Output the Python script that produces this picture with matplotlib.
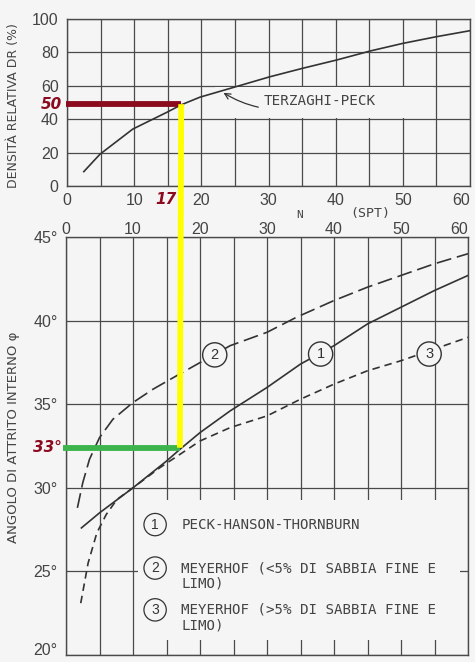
import matplotlib
matplotlib.use("Agg")
import matplotlib.pyplot as plt
from matplotlib.patches import Rectangle, ConnectionPatch

# ---------------- data ----------------
tp_n  = [2.5, 4.9, 9.8, 14.8, 17.0, 19.8, 24.5, 30.2, 35.1, 40.1, 45.3, 50.0, 55.0, 60.0]
tp_dr = [8.6, 19.0, 34.1, 44.0, 48.6, 53.2, 58.7, 65.4, 70.5, 75.4, 81.0, 85.4, 89.4, 93.0]

c1_n   = [2.3, 5.0, 10.0, 15.0, 17.0, 20.0, 24.5, 30.0, 35.0, 40.0, 45.0, 50.0, 55.0, 60.0]
c1_phi = [27.6, 28.5, 30.0, 31.6, 32.3, 33.3, 34.6, 36.0, 37.4, 38.5, 39.8, 40.8, 41.8, 42.7]

c2_n   = [1.7, 2.5, 3.5, 5.0, 7.0, 10.0, 13.0, 16.5, 20.5, 24.5, 30.0, 34.4, 40.0, 45.0, 50.0, 55.0, 60.0]
c2_phi = [28.8, 30.3, 31.7, 33.0, 34.1, 35.1, 35.9, 36.7, 37.6, 38.5, 39.3, 40.2, 41.2, 42.0, 42.7, 43.4, 44.0]

c3_n   = [2.2, 3.3, 4.6, 6.0, 7.6, 10.0, 14.0, 17.0, 20.0, 24.5, 30.0, 35.0, 40.0, 45.0, 50.0, 55.0, 60.0]
c3_phi = [23.1, 25.5, 27.3, 28.4, 29.3, 30.0, 31.2, 32.0, 32.8, 33.6, 34.3, 35.3, 36.2, 37.0, 37.6, 38.3, 39.0]

n_ticks = [0, 10, 20, 30, 40, 50, 60]
dr_ticks = [0, 20, 40, 60, 80, 100]
phi_ticks = [20, 25, 30, 35, 40, 45]
phi_labels = ["20°", "25°", "30°", "35°", "40°", "45°"]

n_read = 17
dr_read = 49
phi_read = 32.4

legend_first = ["PECK-HANSON-THORNBURN",
                "MEYERHOF (<5% DI SABBIA FINE E",
                "MEYERHOF (>5% DI SABBIA FINE E"]
legend_second = ["", "LIMO)", "LIMO)"]

# ---------------- style ----------------
BG = "#f5f5f5"
INK = "#333333"
GRID = "#4a4a4a"
TXT = "#444444"
DRED = "#8b0a1e"
MONO = "DejaVu Sans Mono"
TICKF = "Liberation Sans"

fig = plt.figure(figsize=(4.75, 6.62), dpi=100)
fig.patch.set_facecolor(BG)

W, H = 475.0, 662.0
ax1 = fig.add_axes([67 / W, 1 - 186 / H, (470 - 67) / W, (186 - 19) / H])
ax2 = fig.add_axes([66 / W, 1 - 655 / H, (468 - 66) / W, (655 - 237) / H])

grid5 = list(range(0, 61, 5))
xlabels = [str(t) if t in n_ticks else "" for t in grid5]

for ax in (ax1, ax2):
    ax.set_facecolor(BG)
    ax.set_axisbelow(True)
    for s in ax.spines.values():
        s.set_color(GRID)
        s.set_linewidth(1.0)
    ax.tick_params(length=0, colors=TXT)
    ax.set_xlim(0, 60)
    ax.set_xticks(grid5)
    ax.set_xticklabels(xlabels, family=TICKF, color=TXT, fontsize=11.5)
    ax.grid(True, color=GRID, lw=0.9)

# ---- top panel ----
ax1.set_ylim(0, 100)
ax1.set_yticks(dr_ticks)
ax1.set_yticklabels([str(t) for t in dr_ticks], family=TICKF, color=TXT, fontsize=11.5)
ax1.tick_params(axis="x", pad=5)
ax1.tick_params(axis="y", pad=6)
ax1.add_patch(Rectangle((22, 40.7), 32.5, 18.6, facecolor=BG, edgecolor="none", zorder=1))
ax1.plot(tp_n, tp_dr, color=INK, lw=1.2, zorder=3)
ax1.annotate("TERZAGHI-PECK", xy=(23.3, 55.8), xytext=(29.3, 50.8),
             fontsize=10.3, family=MONO, color=TXT, va="center", ha="left",
             arrowprops=dict(arrowstyle="->", color=INK, lw=0.9,
                             connectionstyle="arc3,rad=-0.25", shrinkA=2, shrinkB=0), zorder=4)
ax1.set_ylabel("DENSITÀ RELATIVA DR (%)", family="DejaVu Sans", fontsize=9, color=TXT)
ax1.yaxis.set_label_coords(-0.117, 0.48)
fig.text(300 / W, 1 - 215 / H, "N", family=MONO, fontsize=8, color=TXT, ha="center", va="center")
fig.text(370 / W, 1 - 213 / H, "(SPT)", family=MONO, fontsize=9.5, color=TXT, ha="center", va="center")

# ---- bottom panel ----
ax2.set_ylim(20, 45)
ax2.xaxis.tick_top()
ax2.set_yticks(phi_ticks)
ax2.set_yticklabels(phi_labels, family=TICKF, color=TXT, fontsize=11.5)
ax2.tick_params(axis="x", pad=0)
ax2.tick_params(axis="y", pad=6)
ax2.add_patch(Rectangle((10.8, 20.9), 48.0, 8.4, facecolor=BG, edgecolor="none", zorder=1))

# keep the right-most "60" labels and the bottom "20°" label inside the picture
ax1.xaxis.get_major_ticks()[-1].label1.set_horizontalalignment("right")
ax2.xaxis.get_major_ticks()[-1].label2.set_horizontalalignment("right")
ax2.yaxis.get_major_ticks()[0].label1.set_verticalalignment("baseline")

ax2.plot(c1_n, c1_phi, color=INK, lw=1.2, zorder=3)
ax2.plot(c2_n, c2_phi, color=INK, lw=1.2, ls=(0, (9, 3.5)), zorder=3)
ax2.plot(c3_n, c3_phi, color=INK, lw=1.2, ls=(0, (4.5, 3)), zorder=3)

circ = dict(boxstyle="circle,pad=0.35", facecolor=BG, edgecolor=INK, lw=1.0)
for lab, (x, y) in zip(["1", "2", "3"], [(38.0, 38.0), (22.2, 37.95), (54.2, 38.0)]):
    ax2.text(x, y, lab, family=TICKF, fontsize=10.5, color=INK, ha="center", va="center", bbox=circ, zorder=5)

for i, (first, second, y) in enumerate(zip(legend_first, legend_second, [27.8, 25.2, 22.7])):
    ax2.text(13.3, y, str(i + 1), family=TICKF, fontsize=10, color=INK, ha="center", va="center",
             bbox=dict(boxstyle="circle,pad=0.3", facecolor=BG, edgecolor=INK, lw=0.9), zorder=5)
    ax2.text(17.2, y, first, family=MONO, fontsize=10.2, color=TXT, ha="left", va="center", zorder=5)
    if second:
        ax2.text(17.2, y - 0.92, second, family=MONO, fontsize=10.2, color=TXT, ha="left", va="center", zorder=5)

ax2.set_ylabel("ANGOLO DI ATTRITO INTERNO φ", family="DejaVu Sans", fontsize=9.5, color=TXT)
ax2.yaxis.set_label_coords(-0.115, 0.52)

# ---- reading annotations ----
ax1.plot([-0.2, n_read], [dr_read, dr_read], color=DRED, lw=4.2, solid_capstyle="butt", clip_on=False, zorder=6)
ax2.plot([-0.45, n_read], [phi_read, phi_read], color="#3cb44b", lw=4.2, solid_capstyle="butt", clip_on=False, zorder=6)
con = ConnectionPatch(xyA=(n_read, dr_read), coordsA=ax1.transData,
                      xyB=(n_read, phi_read), coordsB=ax2.transData,
                      color="#ffff00", lw=4.2, capstyle="butt", zorder=7)
fig.add_artist(con)

ax1.text(-0.75, dr_read, "50", family="DejaVu Sans", fontsize=11, fontweight="bold", fontstyle="italic",
         color=DRED, ha="right", va="center", clip_on=False, zorder=8)
fig.text(177 / W, 1 - 200 / H, "17", family="DejaVu Sans", fontsize=11, fontweight="bold", fontstyle="italic",
         color=DRED, ha="right", va="center")
ax2.text(-0.6, phi_read, "33°", family="DejaVu Sans", fontsize=11, fontweight="bold", fontstyle="italic",
         color=DRED, ha="right", va="center", clip_on=False, zorder=8)

fig.savefig("out.png", dpi=100, facecolor=BG)
